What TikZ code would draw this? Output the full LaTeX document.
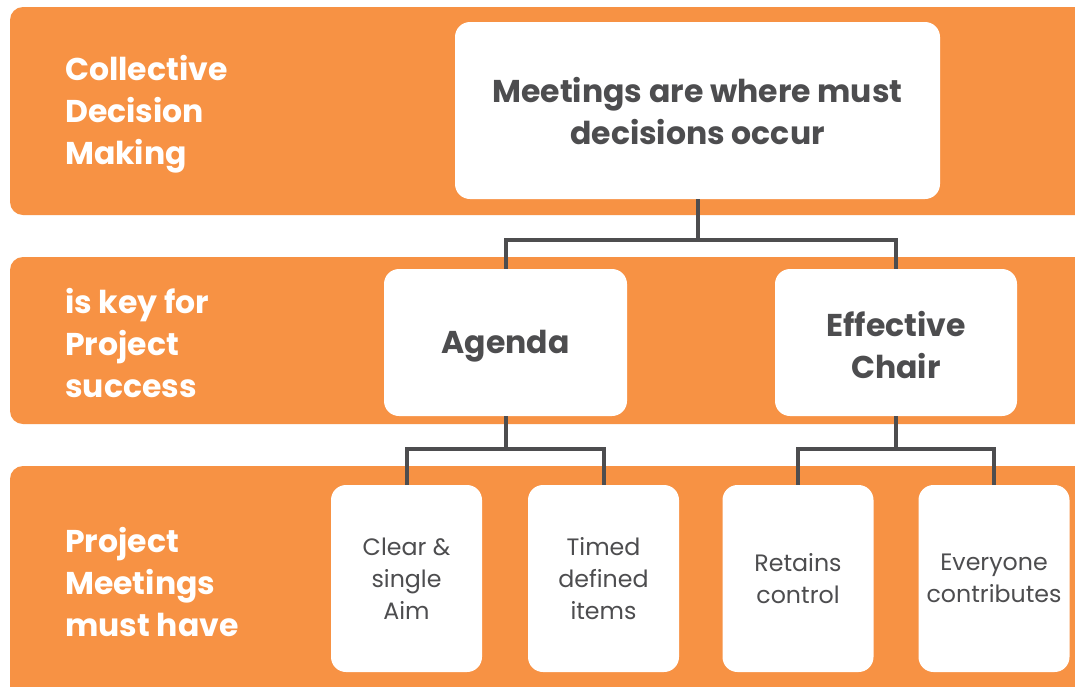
\documentclass[tikz,border=0pt]{standalone}
\usepackage{fontspec}
\setmainfont{Poppins}
\definecolor{band}{HTML}{F79244}
\definecolor{ink}{HTML}{4D4D4F}
\newcommand{\lowr}[2]{\raisebox{-#1}[\height][\depth]{#2}}
\tikzset{
  bandfill/.style={fill=band, draw=none, rounded corners=13pt},
  bandlabel/.style={anchor=west, align=left, text=white, font=\fontsize{31.5}{42}\selectfont\bfseries, inner sep=0pt},
  bigbox/.style={fill=white, draw=none, rounded corners=15pt, text=ink, align=center, font=\fontsize{31.5}{42}\selectfont\bfseries, inner sep=0pt},
  smallbox/.style={fill=white, draw=none, rounded corners=15pt, text=ink, align=center, font=\fontsize{23.7}{32}\selectfont, inner sep=0pt, minimum width=151pt, minimum height=187pt},
  conn/.style={draw=ink, line width=4pt}
}
\begin{document}
\begin{tikzpicture}[x=1pt,y=-1pt]
\useasboundingbox (0,0) rectangle (1075,686);
\begin{scope}
\clip (0,0) rectangle (1075,686);
\fill[white] (0,0) rectangle (1075,686);
\path[bandfill] (10,7) rectangle (1100,215);
\path[bandfill] (10,257) rectangle (1100,424);
\path[bandfill] (10,466) rectangle (1100,720);
\end{scope}

\node[bandlabel] (l1) at (65,114) {Collective\\Decision\\Making};
\node[bandlabel] (l2) at (65,343) {is key for\\Project\\success};
\node[bandlabel] (l3) at (65,582) {Project\\Meetings\\must have};

\node[bigbox, minimum width=485pt, minimum height=177pt] (top) at (697.5,110.5) {\lowr{1pt}{Meetings are where must}\\\lowr{1pt}{decisions occur}};
\node[bigbox, minimum width=243pt, minimum height=147pt] (agenda) at (505.5,342.5) {\lowr{4pt}{Agenda}};
\node[bigbox, minimum width=242pt, minimum height=147pt] (chair) at (896,342.5) {\lowr{3pt}{Effective}\\\lowr{3pt}{Chair}};

\node[smallbox] (s1) at (406.5,578.5) {Clear \&\\single\\Aim};
\node[smallbox] (s2) at (603.5,578.5) {Timed\\defined\\items};
\node[smallbox] (s3) at (798,578.5) {Retains\\control};
\node[smallbox] (s4) at (994,578.5) {Everyone\\contributes};

\coordinate (j1) at (697.5,240);
\coordinate (j2) at (505.5,449);
\coordinate (j3) at (896,449);
\draw[conn] (top.south) -- (j1) -| (agenda.north);
\draw[conn] (j1) -| (chair.north);
\draw[conn] (agenda.south) -- (j2) -| (s1.north);
\draw[conn] (j2) -| (s2.north);
\draw[conn] (chair.south) -- (j3) -| (s3.north);
\draw[conn] (j3) -| (s4.north);
\end{tikzpicture}
\end{document}
